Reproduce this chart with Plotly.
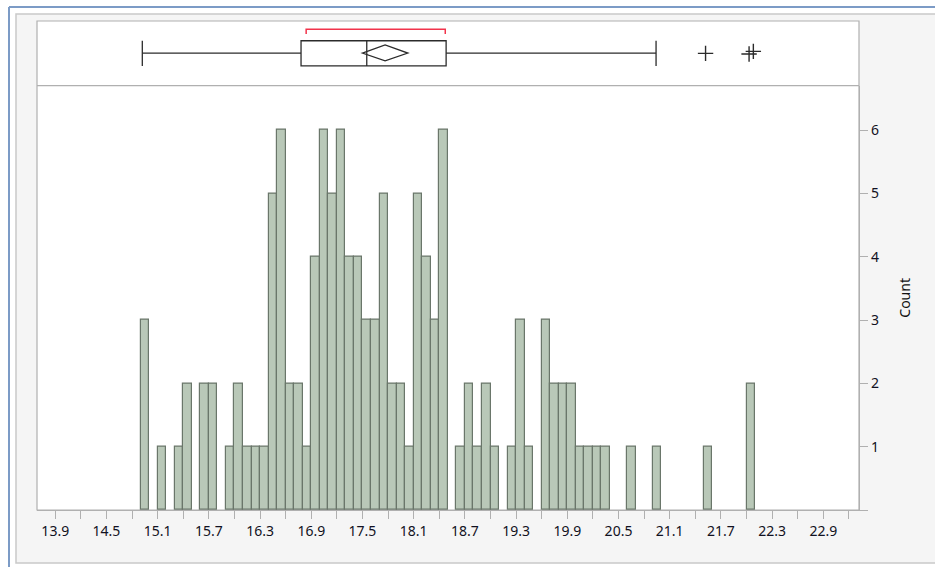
import plotly.graph_objects as go

# Histogram bins (width 0.1, labelled by lower edge) and their counts
bin_starts = [round(14.9 + 0.1 * i, 1) for i in range(72)]
counts = [3, 0, 1, 0, 1, 2, 0, 2, 2, 0,   # 14.9 - 15.8
          1, 2, 1, 1, 1, 5, 6, 2, 2, 1,   # 15.9 - 16.8
          4, 6, 5, 6, 4, 4, 3, 3, 5, 2,   # 16.9 - 17.8
          2, 1, 5, 4, 3, 6, 0, 1, 2, 1,   # 17.9 - 18.8
          2, 1, 0, 1, 3, 1, 0, 3, 2, 2,   # 18.9 - 19.8
          2, 1, 1, 1, 1, 0, 0, 1, 0, 0,   # 19.9 - 20.8
          1, 0, 0, 0, 0, 0, 1, 0, 0, 0,   # 20.9 - 21.8
          0, 2]                           # 21.9 - 22.0
bin_width = 0.1

# Outlier box plot summary
whisker_lo = 14.92
q1 = 16.78
median = 17.55
q3 = 18.48
whisker_hi = 20.94
mean = 17.765
mean_ci_half = 0.266
shortest_half = [16.84, 18.47]
outliers = [21.52, 22.03, 22.08]
outlier_pos = [0.50, 0.49, 0.53]

# Axis ticks
x_ticks = [round(13.9 + 0.6 * i, 1) for i in range(16)]
y_ticks = [0, 1, 2, 3, 4, 5, 6]
y_tick_text = ["", "1", "2", "3", "4", "5", "6"]

W, H = 935, 567
ML, MR, MT, MB = 37, 76, 21, 57
PW, PH = W - ML - MR, H - MT - MB


def px_x(px):
    return (px - ML) / PW


def px_y(py):
    return (H - MB - py) / PH


split = px_y(85.7)  # boundary between histogram and box panel

bar_fill = "#b9c8b8"
bar_edge = "#6a766a"
ink = "#2b2b2b"
frame = "#b0b0b0"

xs = [b + bin_width / 2 for b, c in zip(bin_starts, counts) if c > 0]
ys = [c for c in counts if c > 0]

fig = go.Figure()
fig.add_trace(go.Bar(
    x=xs, y=ys, width=bin_width,
    marker=dict(color=bar_fill, line=dict(color=bar_edge, width=1.2)),
    xaxis="x", yaxis="y", hoverinfo="x+y", showlegend=False,
))
fig.add_trace(go.Scatter(
    x=outliers, y=outlier_pos, mode="markers",
    marker=dict(symbol="cross-thin", size=11, line=dict(color=ink, width=1.4)),
    xaxis="x", yaxis="y2", showlegend=False, hoverinfo="x",
))

shapes = []
# page background and frames
shapes.append(dict(type="rect", xref="paper", yref="paper",
                   x0=px_x(0), x1=px_x(W), y0=px_y(H), y1=px_y(0),
                   fillcolor="#ffffff", line=dict(width=0), layer="below"))
shapes.append(dict(type="rect", xref="paper", yref="paper",
                   x0=px_x(16), x1=px_x(W + 5), y0=px_y(563), y1=px_y(14),
                   fillcolor="#f5f5f5", line=dict(color="#c9c9c9", width=1.5), layer="below"))
shapes.append(dict(type="line", xref="paper", yref="paper",
                   x0=px_x(9), x1=px_x(W), y0=px_y(7), y1=px_y(7),
                   line=dict(color="#7c9bc6", width=2)))
shapes.append(dict(type="line", xref="paper", yref="paper",
                   x0=px_x(9), x1=px_x(9), y0=px_y(H), y1=px_y(7),
                   line=dict(color="#7c9bc6", width=2)))
# white panels
shapes.append(dict(type="rect", xref="paper", yref="paper",
                   x0=0, x1=1, y0=0, y1=1,
                   fillcolor="#ffffff", line=dict(color=frame, width=1.2), layer="below"))
shapes.append(dict(type="line", xref="paper", yref="paper",
                   x0=0, x1=1, y0=split, y1=split,
                   line=dict(color=frame, width=1.2)))

# box plot drawn in the upper panel
box_lo, box_hi, mid = 0.305, 0.695, 0.505
line = dict(color=ink, width=1.3)
shapes += [
    dict(type="line", xref="x", yref="y2", x0=whisker_lo, x1=q1, y0=mid, y1=mid, line=line),
    dict(type="line", xref="x", yref="y2", x0=q3, x1=whisker_hi, y0=mid, y1=mid, line=line),
    dict(type="line", xref="x", yref="y2", x0=whisker_lo, x1=whisker_lo, y0=box_lo, y1=box_hi, line=line),
    dict(type="line", xref="x", yref="y2", x0=whisker_hi, x1=whisker_hi, y0=box_lo, y1=box_hi, line=line),
    dict(type="rect", xref="x", yref="y2", x0=q1, x1=q3, y0=box_lo, y1=box_hi, line=line),
    dict(type="line", xref="x", yref="y2", x0=median, x1=median, y0=box_lo, y1=box_hi, line=line),
    dict(type="path", xref="x", yref="y2",
         path=(f"M {mean - mean_ci_half},{mid} L {mean},{0.63} "
               f"L {mean + mean_ci_half},{mid} L {mean},{0.385} Z"),
         line=dict(color=ink, width=1.3)),
    dict(type="path", xref="x", yref="y2",
         path=(f"M {shortest_half[0]},{0.80} L {shortest_half[0]},{0.872} "
               f"L {shortest_half[1]},{0.872} L {shortest_half[1]},{0.80}"),
         line=dict(color="#f2334b", width=1.5)),
]

tick_font = dict(family="Noto Sans", size=14, color="#111122")

fig.update_layout(
    width=W, height=H,
    margin=dict(l=ML, r=MR, t=MT, b=MB, pad=0),
    paper_bgcolor="#f5f5f5",
    plot_bgcolor="rgba(0,0,0,0)",
    bargap=0,
    shapes=shapes,
    font=tick_font,
    xaxis=dict(
        range=[13.686, 23.318],
        tickmode="array", tickvals=x_ticks, ticktext=[f"{v:.1f}" for v in x_ticks],
        ticks="outside", ticklen=8, tickcolor=frame, tickwidth=1.2,
        minor=dict(tickmode="linear", tick0=13.6, dtick=0.3, ticks="outside",
                   ticklen=8, tickcolor=frame, tickwidth=1.2),
        showline=True, linecolor=frame, linewidth=1.2,
        showgrid=False, zeroline=False, anchor="y", fixedrange=True,
        tickfont=tick_font,
    ),
    yaxis=dict(
        domain=[0, split],
        range=[0, 6.70],
        side="right",
        tickmode="array", tickvals=y_ticks, ticktext=y_tick_text,
        ticks="outside", ticklen=8, tickcolor=frame, tickwidth=1.2,
        showline=True, linecolor=frame, linewidth=1.2,
        showgrid=False, zeroline=False, anchor="x",
        title=dict(text="Count", standoff=22, font=dict(family="Noto Sans", size=14, color="#111111")),
        tickfont=tick_font,
    ),
    yaxis2=dict(
        domain=[split, 1], range=[0, 1], anchor="x",
        showticklabels=False, showgrid=False, zeroline=False, showline=False, ticks="",
    ),
)

fig.write_html("out.html")
